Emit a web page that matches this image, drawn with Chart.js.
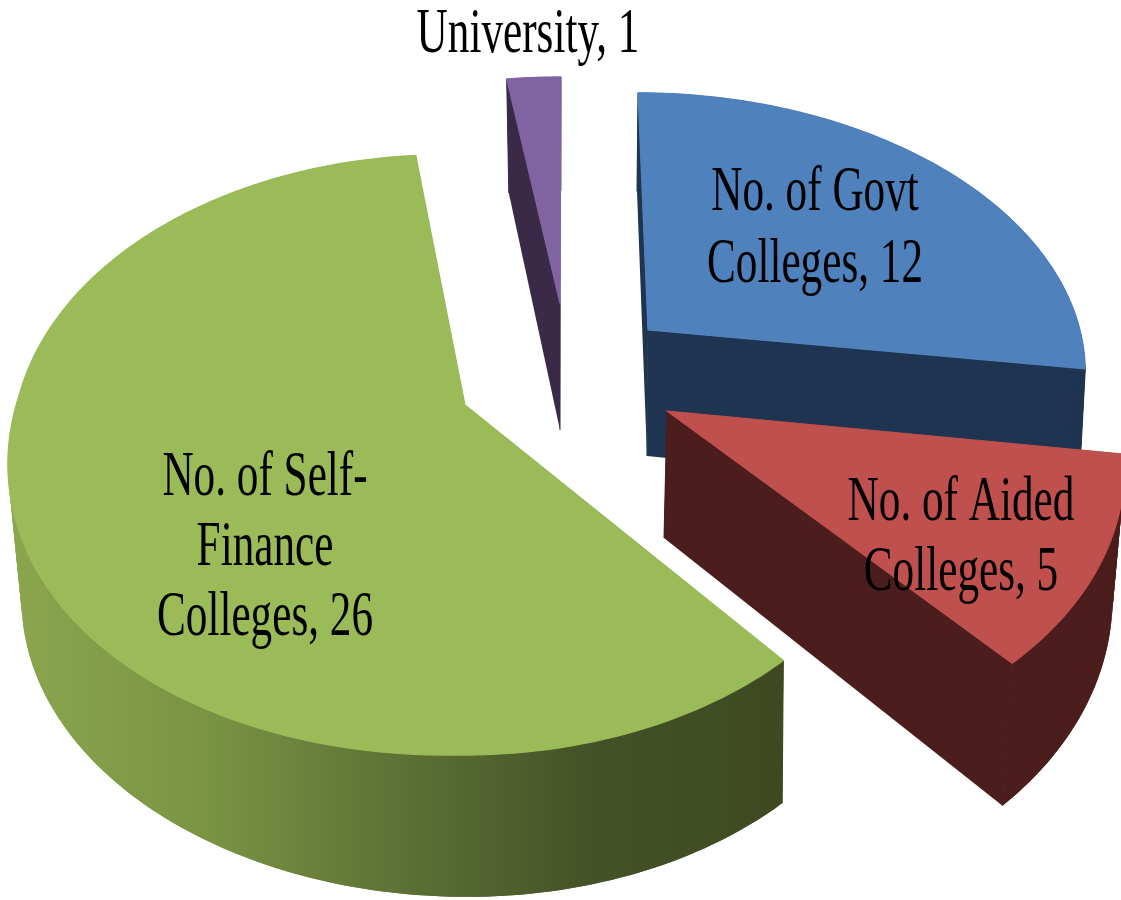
<!DOCTYPE html>
<html>
<head>
<meta charset="utf-8">
<style>html,body{margin:0;padding:0;background:#fff}canvas{display:block}</style>
<script src="https://cdn.jsdelivr.net/npm/chart.js@4"></script>
</head>
<body>
<canvas id="c" width="1121" height="900"></canvas>
<script>
// ---- data ----
const categories = ["No. of Govt Colleges", "No. of Aided Colleges", "No. of Self-Finance Colleges", "University"];
const values = [12, 5, 26, 1];
const labelLines = [["No. of Govt", "Colleges"], ["No. of Aided", "Colleges"], ["No. of Self-", "Finance", "Colleges"], ["University"]];

// ---- styles ----
const topColors = ["#4f81bd", "#c0504d", "#9bbb59", "#8064a2"];
const wallColors = ["#1f3450", "#4b1d1c", null, "#3a2a48"];
const greenStops = [[0, "#8ba64e"], [0.25, "#7a9444"], [0.5, "#5d7235"], [0.75, "#445227"], [1, "#3e4921"]];

// projection of each exploded slice: top face and bottom face of the 3D pie
const views = [
  {top:{cx:648,cy:330,R:432,sh:-11.3,Rs:268,sy:0,k:.13,m:0}, bot:{cx:647,cy:456,R:426,sh:-11.3,Rs:299,sy:0,k:.13,m:0}},
  {top:{cx:667,cy:411,R:450,sh:-15,Rs:296,sy:0,k:.15,m:0}, bot:{cx:664,cy:538,R:441,sh:-15,Rs:314,sy:0,k:.15,m:0}},
  {top:{cx:465,cy:405,R:437,sh:5,Rs:291.7,sy:-9.5,k:.1667,m:.02,qx:20,qy:12}, bot:{cx:469,cy:550,R:430,sh:5,Rs:289,sy:-9.5,k:.1667,m:.02,qx:8,qy:0}},
  {top:{cx:560,cy:303,R:437,sh:1,Rs:260,sy:0,k:.15,m:0}, bot:{cx:560,cy:430,R:420,sh:1,Rs:275,sy:0,k:.15,m:0}}
];
const paintOrder = [0, 3, 2, 1];
// label line centre x and first baseline y
const labelAnchors = [[815, 210, 72], [961, 520, 70], [265, 495, 70], [528, 52, 0]];
const FONT = '64px "Liberation Serif"';
const TEXT_X_SCALE = 0.675;

function project(p, a) {
  const u = Math.sin(a), v = Math.cos(a);
  const d = 1 + p.k * v + p.m * u;
  let x = p.cx + (p.R * u + p.sh * v) / d, y = p.cy - (p.Rs * v + p.sy * u) / d;
  if (p.qx !== undefined && u < 0 && v < 0) { x -= p.qx * u * v; y += p.qy * u * v; }
  return [x, y];
}
function arcPoints(p, a0, a1) {
  const n = Math.max(2, Math.ceil((a1 - a0) / (Math.PI / 180)));
  const pts = [];
  for (let i = 0; i <= n; i++) pts.push(project(p, a0 + (a1 - a0) * i / n));
  return pts;
}
function trace(ctx, pts) {
  ctx.beginPath();
  pts.forEach((q, i) => i ? ctx.lineTo(q[0], q[1]) : ctx.moveTo(q[0], q[1]));
  ctx.closePath();
}
function edge(ctx, a, b) {
  ctx.beginPath(); ctx.moveTo(a[0], a[1]); ctx.lineTo(b[0], b[1]); ctx.stroke();
}

const pie3d = {
  id: 'pie3d',
  beforeDatasetsDraw(chart) {
    const ctx = chart.ctx, arcs = chart.getDatasetMeta(0).data;
    ctx.save();
    paintOrder.forEach(i => {
      const a0 = arcs[i].startAngle + Math.PI / 2, a1 = arcs[i].endAngle + Math.PI / 2;
      const view = views[i];
      const T = arcPoints(view.top, a0, a1), B = arcPoints(view.bot, a0, a1);
      const tc = [view.top.cx, view.top.cy], bc = [view.bot.cx, view.bot.cy];
      let wall = wallColors[i];
      if (!wall) {
        wall = ctx.createLinearGradient(10, 0, 784, 0);
        greenStops.forEach(s => wall.addColorStop(s[0], s[1]));
      }
      ctx.fillStyle = wall; ctx.strokeStyle = wall; ctx.lineWidth = 1;
      const last = T.length - 1;
      trace(ctx, [tc, T[0], B[0], bc]); ctx.fill();
      trace(ctx, [tc, T[last], B[last], bc]); ctx.fill();
      // rim: overlapping quads so that no seams show
      for (let j = 0; j < last; j++) {
        const e = Math.min(j + 2, last), mid = j + 1;
        trace(ctx, [T[j], T[mid], T[e], B[e], B[mid], B[j]]); ctx.fill();
      }
      edge(ctx, T[0], B[0]); edge(ctx, T[last], B[last]); edge(ctx, tc, bc);
      ctx.fillStyle = topColors[i];
      ctx.strokeStyle = topColors[i];
      ctx.lineWidth = 1.2;
      ctx.lineJoin = 'round';
      trace(ctx, [tc].concat(T));
      ctx.fill(); ctx.stroke();
    });
    // data labels
    ctx.fillStyle = '#000'; ctx.font = FONT; ctx.textAlign = 'center'; ctx.textBaseline = 'alphabetic';
    values.forEach((val, i) => {
      const [x, y, lh] = labelAnchors[i], lines = labelLines[i];
      lines.forEach((ln, j) => {
        const txt = j === lines.length - 1 ? ln + ", " + val : ln;
        ctx.save();
        ctx.translate(x, y + j * lh);
        ctx.scale(TEXT_X_SCALE, 1);
        ctx.fillText(txt, 0, 0);
        ctx.restore();
      });
    });
    ctx.restore();
    return false;
  }
};

new Chart(document.getElementById('c'), {
  type: 'pie',
  data: { labels: categories, datasets: [{ data: values, backgroundColor: topColors }] },
  options: {
    responsive: false, animation: false, rotation: 0,
    plugins: { legend: { display: false }, tooltip: { enabled: false }, title: { display: false } }
  },
  plugins: [pie3d, { id: 'bg', beforeDraw(c) { c.ctx.fillStyle = '#fff'; c.ctx.fillRect(0, 0, c.width, c.height); } }]
});
</script>
</body>
</html>
